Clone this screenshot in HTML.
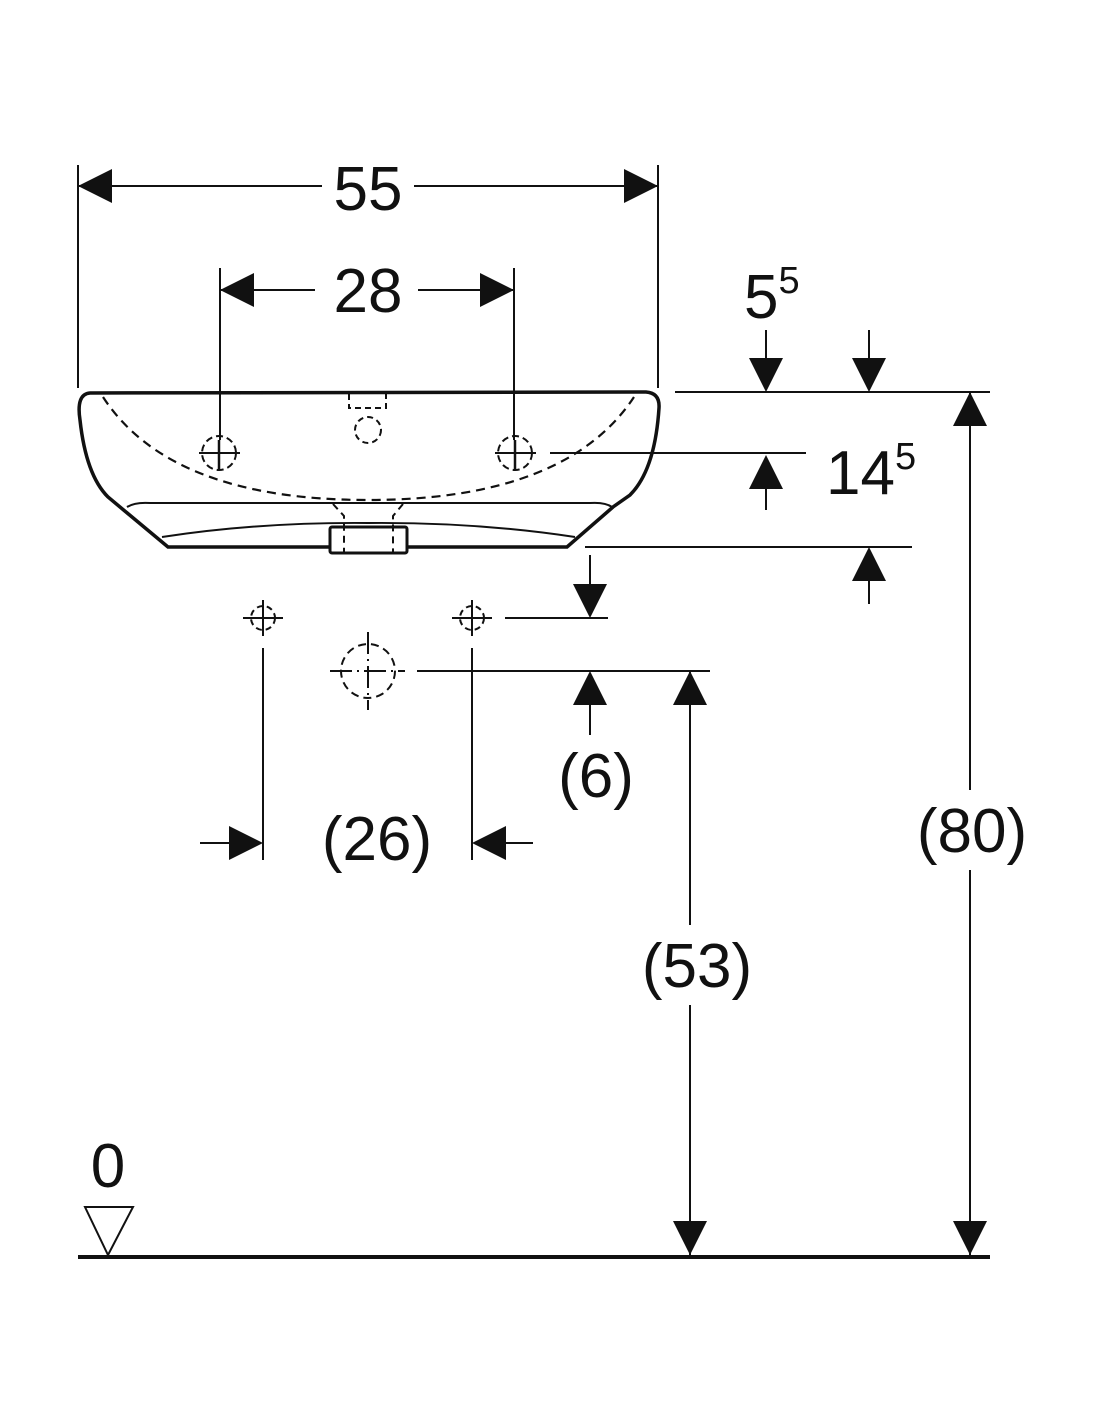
<!DOCTYPE html>
<html><head><meta charset="utf-8"><style>
html,body{margin:0;padding:0;background:#fff;}
svg{display:block;}
text{font-family:"Liberation Sans",Arial,sans-serif;fill:#111;}
</style></head><body>
<svg width="1100" height="1422" viewBox="0 0 1100 1422" xmlns="http://www.w3.org/2000/svg">
<defs>
<path id="aD" d="M0,0 L-17,-34 L17,-34 Z" fill="#111"/>
</defs>
<g stroke="#111" stroke-width="2" fill="none">
<line x1="78" y1="165" x2="78" y2="388"/>
<line x1="658" y1="165" x2="658" y2="388"/>
<line x1="78" y1="186" x2="322" y2="186"/>
<line x1="414" y1="186" x2="658" y2="186"/>
<line x1="220" y1="268" x2="220" y2="440"/>
<line x1="514" y1="268" x2="514" y2="440"/>
<line x1="220" y1="290" x2="315" y2="290"/>
<line x1="418" y1="290" x2="514" y2="290"/>
<path d="M90,393 L646,392 Q660,393 659,408 Q655,470 630,495 L613,507 L567,547 L168,547 L108,497 Q86,475 80,420 Q76,394 90,393 Z" stroke-width="3.5"/>
<path d="M103,397 Q170,500 368,500 Q566,500 634,397" stroke-dasharray="9,6" stroke-width="2.2"/>
<path d="M127,507 Q135,502 150,503 L590,503 Q605,502 612,507"/>
<path d="M162,537 Q260,522 368,523 Q476,522 575,537"/>
<rect x="330" y="527" width="77" height="26" rx="2" stroke-width="3" fill="#fff"/>
<path d="M333,504 L344,516 L344,553 M403,504 L393,516 L393,553" stroke-dasharray="7,5"/>
<path d="M349,394 L349,408 L386,408 L386,394" stroke-dasharray="6,4"/>
<circle cx="368" cy="430" r="13" stroke-dasharray="6,4"/>
<circle cx="219" cy="453" r="17" stroke-dasharray="7,4"/>
<line x1="199" y1="453" x2="240" y2="453"/>
<line x1="219" y1="440" x2="219" y2="469" stroke-width="2.5"/>
<circle cx="515" cy="453" r="17" stroke-dasharray="7,4"/>
<line x1="495" y1="453" x2="536" y2="453"/>
<line x1="515" y1="440" x2="515" y2="469" stroke-width="2.5"/>
<line x1="550" y1="453" x2="806" y2="453"/>
<circle cx="263" cy="618" r="12" stroke-dasharray="6,4"/>
<line x1="243" y1="618" x2="283" y2="618"/>
<line x1="263" y1="600" x2="263" y2="636"/>
<circle cx="472" cy="618" r="12" stroke-dasharray="6,4"/>
<line x1="452" y1="618" x2="492" y2="618"/>
<line x1="472" y1="600" x2="472" y2="636"/>
<line x1="263" y1="648" x2="263" y2="860"/>
<line x1="472" y1="648" x2="472" y2="860"/>
<circle cx="368" cy="671" r="27" stroke-dasharray="8,5"/>
<line x1="330" y1="671" x2="405" y2="671" stroke-dasharray="22,5,2,5"/>
<line x1="368" y1="632" x2="368" y2="710" stroke-dasharray="22,5,2,5"/>
<line x1="675" y1="392" x2="990" y2="392"/>
<line x1="585" y1="547" x2="912" y2="547"/>
<line x1="505" y1="618" x2="608" y2="618"/>
<line x1="417" y1="671" x2="710" y2="671"/>
<line x1="766" y1="330" x2="766" y2="370"/>
<line x1="869" y1="330" x2="869" y2="370"/>
<line x1="766" y1="480" x2="766" y2="510"/>
<line x1="590" y1="555" x2="590" y2="590"/>
<line x1="869" y1="575" x2="869" y2="604"/>
<line x1="590" y1="700" x2="590" y2="735"/>
<line x1="200" y1="843" x2="235" y2="843"/>
<line x1="500" y1="843" x2="533" y2="843"/>
<line x1="690" y1="671" x2="690" y2="1255"/>
<line x1="970" y1="392" x2="970" y2="1255"/>
<line x1="78" y1="1257" x2="990" y2="1257" stroke-width="4"/>
<path d="M85,1207 L133,1207 L108,1255 Z"/>
</g>
<g fill="#111">
<path d="M78,186 L112,169 L112,203 Z"/>
<path d="M658,186 L624,169 L624,203 Z"/>
<path d="M220,290 L254,273 L254,307 Z"/>
<path d="M514,290 L480,273 L480,307 Z"/>
<use href="#aD" transform="translate(766,392)"/>
<use href="#aD" transform="translate(869,392)"/>
<use href="#aD" transform="translate(766,455) rotate(180)"/>
<use href="#aD" transform="translate(590,618)"/>
<use href="#aD" transform="translate(869,547) rotate(180)"/>
<use href="#aD" transform="translate(590,671) rotate(180)"/>
<use href="#aD" transform="translate(263,843) rotate(-90)"/>
<use href="#aD" transform="translate(472,843) rotate(90)"/>
<use href="#aD" transform="translate(690,671) rotate(180)"/>
<use href="#aD" transform="translate(690,1255)"/>
<use href="#aD" transform="translate(970,392) rotate(180)"/>
<use href="#aD" transform="translate(970,1255)"/>
</g>
<rect x="636" y="925" width="124" height="80" fill="#fff"/>
<rect x="912" y="790" width="124" height="80" fill="#fff"/>
<g font-size="62" text-anchor="middle">
<text x="368" y="210">55</text>
<text x="368" y="312">28</text>
<text x="596" y="797">(6)</text>
<text x="377" y="860">(26)</text>
<text x="697" y="987">(53)</text>
<text x="972" y="852">(80)</text>
<text x="108" y="1187">0</text>
</g>
<text x="744" y="318" font-size="62">5<tspan font-size="38" dy="-25">5</tspan></text>
<text x="826" y="494" font-size="62">14<tspan font-size="38" dy="-25">5</tspan></text>
</svg>
</body></html>
